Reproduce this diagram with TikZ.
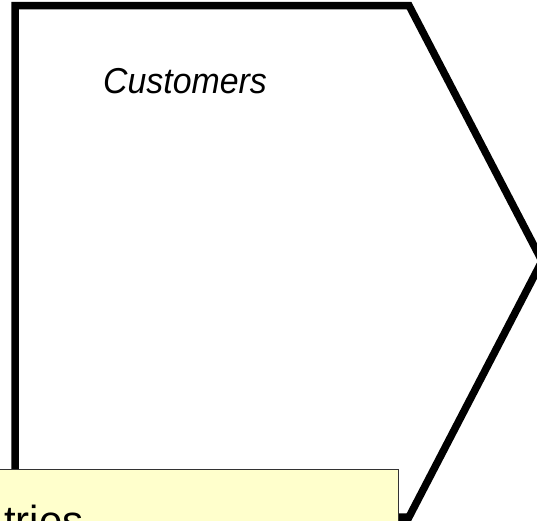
\documentclass[tikz,border=0pt]{standalone}
\usepackage{fontspec}
\setmainfont{Liberation Sans}
\newfontfamily\custfont[FakeStretch=0.94]{Liberation Sans}
\definecolor{notefill}{HTML}{FFFFCC}
\tikzset{
  chevron/.style={draw=black, line width=7.5pt, line join=miter, fill=white},
  notebox/.style={fill=notefill, draw=black!80, line width=1pt},
  labeltext/.style={inner sep=0pt, anchor=base west}
}
\begin{document}
\begin{tikzpicture}[x=1pt,y=-1pt]
\useasboundingbox (0,0) rectangle (537,520);
\clip (0,0) rectangle (537,520);
\fill[white] (0,0) rectangle (537,520);
% chevron shape
\draw[chevron] (15,5.5) -- (409,5.5) -- (542,261) -- (409,517) -- (15,517) -- cycle;
\node[labeltext, font=\custfont\itshape\fontsize{36}{40}\selectfont] (cust) at (103,93) {Customers};
% note box
\draw[notebox] (-10,469) rectangle (398,540);
\node[labeltext, font=\fontsize{42}{48}\selectfont] (note) at (4,535) {tries};
\end{tikzpicture}
\end{document}
